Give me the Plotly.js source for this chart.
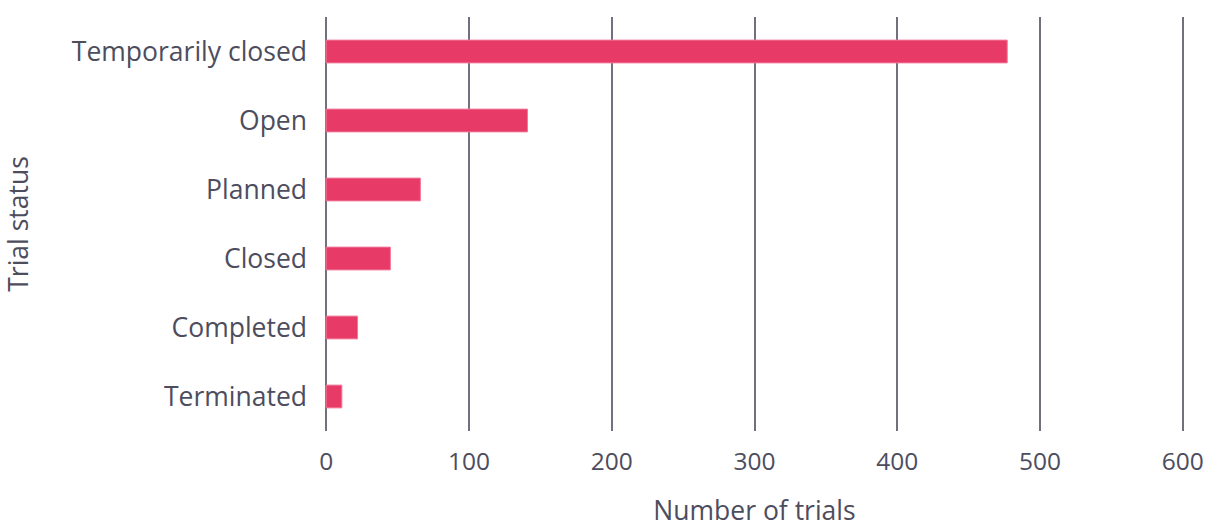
<!DOCTYPE html>
<html>
<head>
<meta charset="utf-8">
<script src="https://cdn.plot.ly/plotly-3.0.1.min.js"></script>
<style>html,body{margin:0;padding:0;background:#fff;}#chart{width:1210px;height:528px;}</style>
</head>
<body>
<div id="chart"></div>
<script>
const categories = ["Temporarily closed", "Open", "Planned", "Closed", "Completed", "Terminated"];
const trialCounts = [477, 141, 66, 45, 22, 11];
const xTickValues = [0, 100, 200, 300, 400, 500, 600];

const textColor = "#4d4d5e";
const trace = {
  type: "bar",
  orientation: "h",
  y: categories,
  x: trialCounts,
  marker: {color: "#e83a67", line: {color: "#f07898", width: 1}},
  hoverinfo: "x+y"
};

const layout = {
  width: 1210,
  height: 528,
  margin: {l: 324, r: 25, t: 17, b: 97},
  paper_bgcolor: "#ffffff",
  plot_bgcolor: "#ffffff",
  bargap: 0.67,
  showlegend: false,
  font: {family: "Open Sans, sans-serif", size: 26.5, color: textColor},
  xaxis: {
    range: [-1.5, 601.5],
    tickvals: xTickValues,
    showgrid: true,
    gridcolor: "#70707e",
    gridwidth: 2,
    zeroline: false,
    showline: false,
    ticks: "",
    ticklabelstandoff: 13,
    tickfont: {size: 24.5, color: textColor},
    title: {text: "Number of trials", font: {size: 26.5, color: textColor}, standoff: 35}
  },
  yaxis: {
    categoryorder: "array",
    categoryarray: categories,
    autorange: "reversed",
    showgrid: false,
    zeroline: false,
    showline: false,
    ticks: "",
    ticklabelstandoff: 16,
    tickfont: {size: 26.5, color: textColor},
    title: {text: "Trial status", font: {size: 26.5, color: textColor}, standoff: 44}
  }
};

Plotly.newPlot("chart", [trace], layout, {displayModeBar: false, staticPlot: true});
</script>
</body>
</html>
